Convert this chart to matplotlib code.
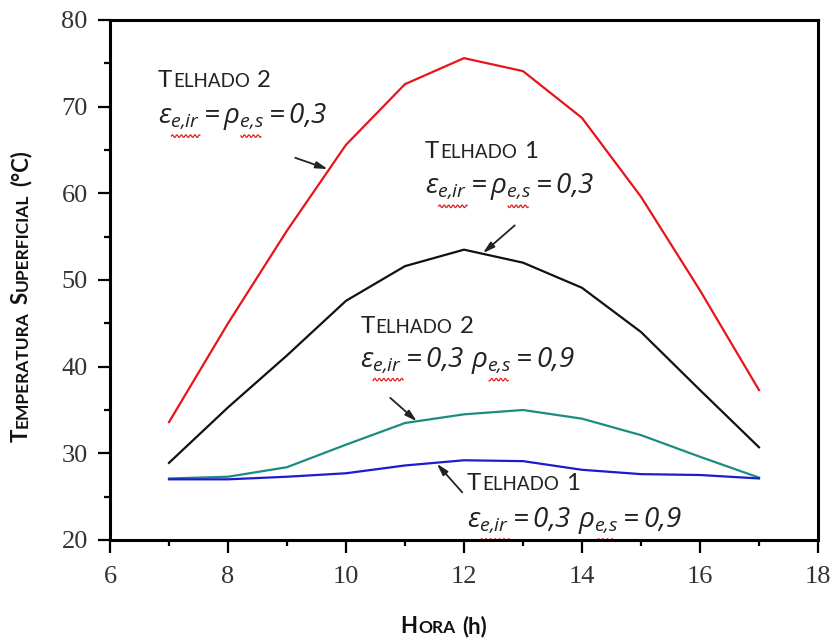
import numpy as np
import matplotlib.pyplot as plt
from matplotlib.ticker import MultipleLocator
from matplotlib.transforms import offset_copy, Affine2D

plt.rcParams['mathtext.fontset'] = 'custom'
plt.rcParams['mathtext.it'] = 'Open Sans:italic'
plt.rcParams['mathtext.rm'] = 'Open Sans:italic'

# temperatura superficial ao longo do dia
horas = [7, 8, 9, 10, 11, 12, 13, 14, 15, 16, 17]
telhado2_03 = [33.6, 45.0, 55.7, 65.6, 72.6, 75.6, 74.1, 68.7, 59.6, 48.8, 37.3]
telhado1_03 = [28.9, 35.3, 41.3, 47.6, 51.6, 53.5, 52.0, 49.1, 44.0, 37.3, 30.7]
telhado2_09 = [27.1, 27.3, 28.4, 31.0, 33.5, 34.5, 35.0, 34.0, 32.1, 29.6, 27.2]
telhado1_09 = [27.0, 27.0, 27.3, 27.7, 28.6, 29.2, 29.1, 28.1, 27.6, 27.5, 27.1]

W, H = 839, 642
fig = plt.figure(figsize=(W / 100, H / 100), dpi=100)
ax = fig.add_axes([110 / W, 1 - 540 / H, 708 / W, 520 / H])

ax.plot(horas, telhado2_03, color='#e8141b', lw=1.6)
ax.plot(horas, telhado1_03, color='#111111', lw=1.6)
ax.plot(horas, telhado2_09, color='#1a8c82', lw=1.6)
ax.plot(horas, telhado1_09, color='#1c1ccc', lw=1.6)

ax.set_xlim(6, 18)
ax.set_ylim(20, 80)
ax.xaxis.set_major_locator(MultipleLocator(2))
ax.xaxis.set_minor_locator(MultipleLocator(1))
ax.yaxis.set_major_locator(MultipleLocator(10))
ax.yaxis.set_minor_locator(MultipleLocator(5))
for s in ax.spines.values():
    s.set_linewidth(2.2)
ax.tick_params(which='major', length=9, width=1.6, direction='out', pad=7,
               labelsize=19, labelcolor='#333333',
               labelfontfamily='Liberation Serif')
ax.tick_params(axis='x', which='major', pad=10)
ax.tick_params(which='minor', length=4, width=1.6, direction='out')
ax.tick_params(top=False, right=False, which='both')

renderer = fig.canvas.get_renderer()


def versalete(x, y, partes, tamanho, transform, rotacao=0, **kw):
    # escreve em versalete: partes = [(texto, pequeno), ...]
    avanco = 0.0
    for texto, pequeno in partes:
        if texto == ' ':
            avanco += 0.26 * tamanho * fig.dpi / 72
            continue
        tam = tamanho * 0.78 if pequeno else tamanho
        dx, dy = (0, avanco) if rotacao else (avanco, 0)
        tr = offset_copy(transform, fig=fig, x=dx, y=dy, units='dots')
        t = fig.text(x, y, texto, fontsize=tam, transform=tr, rotation=rotacao,
                     ha='left', va='baseline', rotation_mode='anchor',
                     fontfamily='Lato', **kw)
        bb = t.get_window_extent(renderer)
        avanco += (bb.height if rotacao else bb.width) + 1.0


def ondulado(x, y, ini, fim, largura):
    # sublinhado vermelho ondulado do corretor sob os subscritos (em pixels)
    x0, y0 = ax.transData.transform((x, y))
    px = np.arange(ini * largura, fim * largura, 0.5)
    py = -13 + 1.3 * np.sin(px * 2 * np.pi / 4.5)
    ax.plot(px, py, color='#e02020', lw=0.9,
            transform=Affine2D().translate(x0, y0))


def rotulo(x, y, numero, y2, formula, subs):
    versalete(x, y, [('T', 0), ('ELHADO', 1), (' ', 0), (numero, 0)], 17.3,
              ax.transData, color='#222222')
    t = ax.text(x, y2, formula, fontsize=20, color='#222222')
    largura = t.get_window_extent(renderer).width
    for ini, fim in subs:
        ondulado(x, y2, ini, fim, largura)


f1 = r'$\varepsilon_{e{,}ir} = \rho_{e{,}s} = 0{,}3$'
f2 = r'$\varepsilon_{e{,}ir} = 0{,}3\ \rho_{e{,}s} = 0{,}9$'
s1 = [(0.08, 0.25), (0.49, 0.61)]
s2 = [(0.06, 0.20), (0.60, 0.69)]
rotulo(6.81, 72.3, '2', 68.1, f1, s1)
rotulo(11.34, 64.1, '1', 60.0, f1, s1)
rotulo(10.24, 43.9, '2', 40.0, f2, s2)
rotulo(12.05, 25.8, '1', 21.5, f2, s2)

seta = dict(arrowstyle='-|>,head_length=0.7,head_width=0.2', color='#222222',
            lw=1.3, shrinkA=0, shrinkB=0)
ax.annotate('', xy=(9.69, 62.8), xytext=(9.14, 64.1), arrowprops=seta)
ax.annotate('', xy=(12.32, 53.1), xytext=(12.86, 56.3), arrowprops=seta)
ax.annotate('', xy=(11.2, 33.7), xytext=(10.75, 36.4), arrowprops=seta)
ax.annotate('', xy=(11.54, 28.8), xytext=(11.97, 25.5), arrowprops=seta)

# títulos dos eixos
versalete(400 / W, 9 / H, [('H', 0), ('ORA', 1), (' ', 0), ('(h)', 0)], 16,
          fig.transFigure, fontweight='bold', color='#111111')
versalete(28 / W, 200 / H,
          [('T', 0), ('EMPERATURA', 1), (' ', 0), ('S', 0), ('UPERFICIAL', 1),
           (' ', 0), ('(°C)', 0)], 16, fig.transFigure, rotacao=90,
          fontweight='bold', color='#111111')

fig.savefig('out.png', dpi=100)
